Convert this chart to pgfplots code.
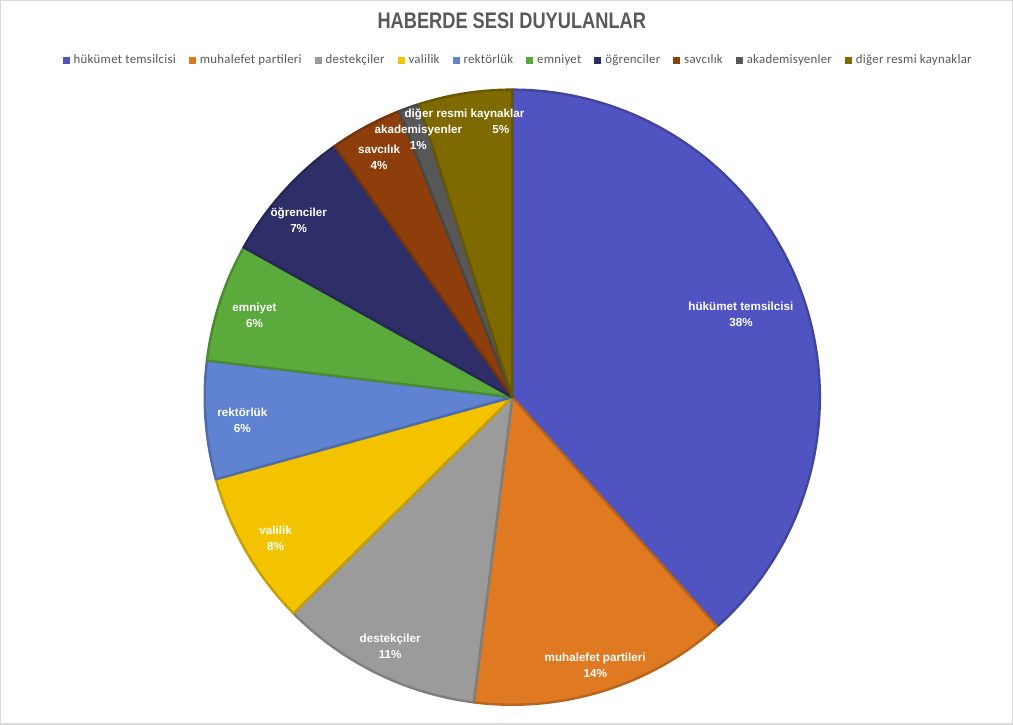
\documentclass[border=0pt]{standalone}
\usepackage{pgfplots}
\usepackage{pgfplotstable}
\pgfplotsset{compat=1.18}
\usepackage{fontspec}
\setmainfont{Liberation Sans}
\newfontfamily\carlito[LetterSpace=2]{Carlito}
\definecolor{c1}{HTML}{4F54C0}
\definecolor{c2}{HTML}{E07A22}
\definecolor{c3}{HTML}{9B9B9B}
\definecolor{c4}{HTML}{F3C300}
\definecolor{c5}{HTML}{5F82D1}
\definecolor{c6}{HTML}{5AAA3C}
\definecolor{c7}{HTML}{2E2F69}
\definecolor{c8}{HTML}{8E3E0B}
\definecolor{c9}{HTML}{575757}
\definecolor{c10}{HTML}{7E6A00}
\definecolor{txtgray}{HTML}{595959}
\definecolor{framegray}{HTML}{D9D9D9}
\pgfplotstableread[col sep=comma]{
value,color
38.4,c1
13.6,c2
10.6,c3
8.1,c4
6.2,c5
6.2,c6
7.1,c7
3.8,c8
1.1,c9
4.9,c10
}\piedata
\begin{document}
\begin{tikzpicture}
\begin{axis}[
  width=759.75pt, height=543pt, scale only axis,
  xmin=0, xmax=1013, ymin=0, ymax=724,
  hide axis, clip=false,
  legend columns=10,
  legend entries={hükümet temsilcisi, muhalefet partileri, destekçiler, valilik, rektörlük, emniyet, öğrenciler, savcılık, akademisyenler, diğer resmi kaynaklar},
  legend image code/.code={\fill[#1, draw=none] (0pt,-2.6pt) rectangle (5.2pt,2.6pt);},
  legend style={at={(0.513,0.9171)}, anchor=center, draw=none, fill=none,
    font=\carlito\fontsize{9.6}{11}\selectfont, text=txtgray,
    /tikz/every even column/.append style={column sep=7.7pt},
    /tikz/every odd column/.append style={column sep=1pt}},
]
\draw[framegray, line width=1pt] (axis cs:4.5,4) rectangle (axis cs:1011,723.5);
\pgfmathsetmacro{\cum}{0}
\pgfplotsforeachungrouped \i in {0,...,9}{%
  \pgfplotstablegetelem{\i}{value}\of\piedata \let\val\pgfplotsretval
  \pgfplotstablegetelem{\i}{color}\of\piedata \let\col\pgfplotsretval
  \pgfmathsetmacro{\aend}{90-3.6*\cum}%
  \pgfmathsetmacro{\cum}{\cum+\val}%
  \pgfmathsetmacro{\astart}{90-3.6*\cum}%
  \edef\doplot{\noexpand\addplot[fill=\col, draw=\col!82!black, line width=1.8pt, line join=round, domain=\astart:\aend, samples=90] ({513.5+306*cos(x)},{329+306*sin(x)}) -- (axis cs:513.5,329) -- cycle;}%
  \doplot
}
\node[text=txtgray, font=\bfseries\fontsize{16.8}{18}\selectfont] at (axis cs:513,704) {\scalebox{0.81}[1]{HABERDE SESI DUYULANLAR}};
\tikzset{pl/.style={text=white, font=\bfseries\fontsize{8.7}{12}\selectfont, align=center, inner sep=0pt}}
\node[pl] at (axis cs:741,411) {hükümet temsilcisi\\38\%};
\node[pl] at (axis cs:596,62) {muhalefet partileri\\14\%};
\node[pl] at (axis cs:392,81) {destekçiler\\11\%};
\node[pl] at (axis cs:278,189) {valilik\\8\%};
\node[pl] at (axis cs:245,306) {rektörlük\\6\%};
\node[pl] at (axis cs:257,410) {emniyet\\6\%};
\node[pl] at (axis cs:301,505) {öğrenciler\\7\%};
\node[pl] at (axis cs:381,568) {savcılık\\4\%};
\node[pl] at (axis cs:420,588) {akademisyenler\\1\%};
\node[pl] at (axis cs:466,610) {diğer resmi kaynaklar};
\node[pl] at (axis cs:502,595) {5\%};
\end{axis}
\end{tikzpicture}
\end{document}
